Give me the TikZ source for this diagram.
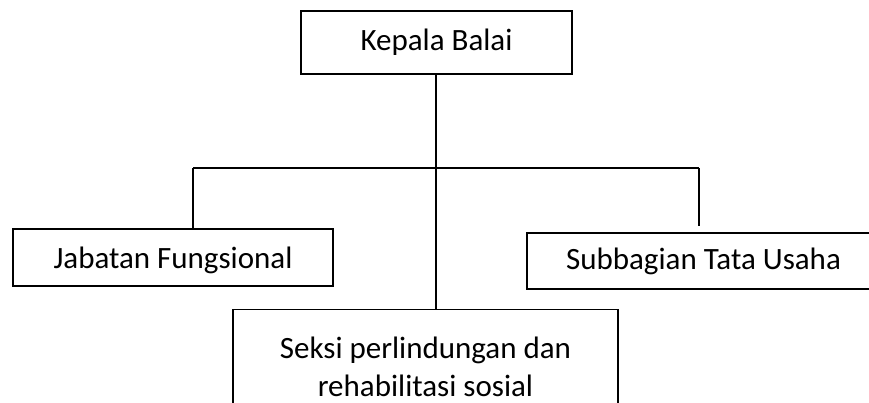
\documentclass[tikz,border=0pt]{standalone}
\usepackage{fontspec}
\setmainfont{Carlito}
\begin{document}
\begin{tikzpicture}[x=1pt,y=-1pt,
  unit/.style={draw=black, line width=1.2pt, rectangle, inner sep=0pt,
    font=\fontsize{31}{38}\selectfont},
  link/.style={draw=black, line width=1.2pt}]
\useasboundingbox (0,0) rectangle (869,403);
\clip (0,0) rectangle (869,403);
% boxes
\node[unit, minimum width=271pt, minimum height=63pt] (kepala) at (436.5,42.5) {Kepala Balai};
\node[unit, minimum width=320pt, minimum height=57pt, text height=28pt, text depth=7pt] (fung) at (173,257.5) {Jabatan Fungsional};
\node[unit, minimum width=353pt, minimum height=56pt] (tu) at (703.5,261) {Subbagian Tata Usaha};
\node[unit, minimum width=385pt, anchor=north, align=center, inner ysep=27pt] (seksi) at (425.5,309)
  {Seksi perlindungan dan\\rehabilitasi sosial};
% junction points of the bar
\coordinate (jl) at (193,168);
\coordinate (jr) at (699,168);
% connectors
\draw[link] (kepala.south -| 436,0) -- (436,0 |- seksi.north);
\draw[link] (jl) -- (jr);
\draw[link] (jl) -- (jl |- fung.north);
\draw[link, shorten >=6pt] (jr) -- (jr |- tu.north);
\end{tikzpicture}
\end{document}
